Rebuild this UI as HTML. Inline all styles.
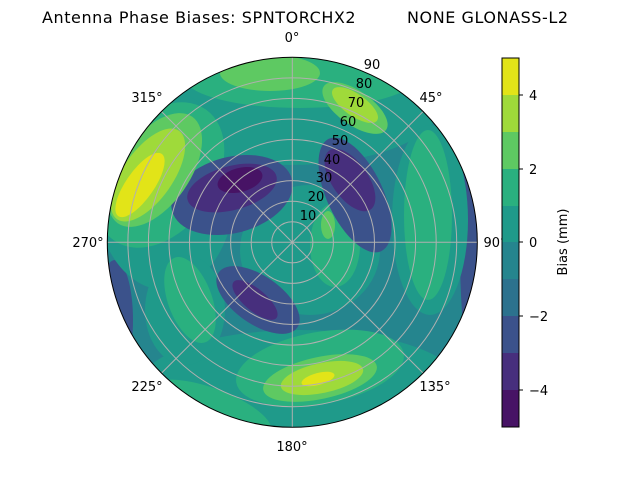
<!DOCTYPE html>
<html><head><meta charset="utf-8"><style>
html,body{margin:0;padding:0;background:#fff;}
svg{display:block;font-family:"DejaVu Sans","Liberation Sans",sans-serif;}
</style></head><body>
<svg width="640" height="480" viewBox="0 0 640 480" xmlns="http://www.w3.org/2000/svg">
<defs><clipPath id="c"><circle cx="292.3" cy="242.3" r="185"/></clipPath></defs>
<text x="42" y="23" font-size="16" textLength="526" lengthAdjust="spacing" xml:space="preserve">Antenna Phase Biases: SPNTORCHX2         NONE GLONASS-L2</text>
<g clip-path="url(#c)">
<rect x="100" y="50" width="400" height="400" fill="#25858e"/>
<ellipse cx="485" cy="250" rx="25" ry="160" fill="#3b528b"/>
<ellipse cx="115" cy="320" rx="18" ry="60" fill="#3b528b"/>
<ellipse cx="290" cy="105" rx="150" ry="60" fill="#1f9a8a"/>
<ellipse cx="300" cy="385" rx="160" ry="55" fill="#1f9a8a"/>
<ellipse cx="165" cy="190" rx="70" ry="100" fill="#1f9a8a"/>
<ellipse cx="430" cy="220" rx="38" ry="95" fill="#1f9a8a"/>
<ellipse cx="310" cy="250" rx="70" ry="65" fill="#1f9a8a"/>
<ellipse cx="185" cy="310" rx="40" ry="55" fill="#1f9a8a"/>
<ellipse cx="300" cy="78" rx="115" ry="30" fill="#2ab07f"/>
<ellipse cx="428" cy="215" rx="24" ry="85" fill="#2ab07f"/>
<ellipse cx="190" cy="300" rx="22" ry="45" fill="#2ab07f" transform="rotate(-20 190 300)"/>
<ellipse cx="210" cy="410" rx="65" ry="22" fill="#2ab07f" transform="rotate(20 210 410)"/>
<ellipse cx="320" cy="368" rx="85" ry="36" fill="#2ab07f" transform="rotate(-10 320 368)"/>
<ellipse cx="335" cy="245" rx="25" ry="42" fill="#2ab07f"/>
<ellipse cx="160" cy="175" rx="55" ry="80" fill="#2ab07f" transform="rotate(35 160 175)"/>
<ellipse cx="232" cy="195" rx="62" ry="38" fill="#3b528b" transform="rotate(-15 232 195)"/>
<ellipse cx="355" cy="195" rx="28" ry="62" fill="#3b528b" transform="rotate(-25 355 195)"/>
<ellipse cx="258" cy="300" rx="48" ry="24" fill="#3b528b" transform="rotate(35 258 300)"/>
<ellipse cx="232" cy="188" rx="46" ry="22" fill="#472f7d" transform="rotate(-15 232 188)"/>
<ellipse cx="350" cy="180" rx="18" ry="36" fill="#472f7d" transform="rotate(-35 350 180)"/>
<ellipse cx="255" cy="300" rx="28" ry="11" fill="#472f7d" transform="rotate(40 255 300)"/>
<ellipse cx="240" cy="180" rx="23" ry="12" fill="#471365" transform="rotate(-15 240 180)"/>
<ellipse cx="270" cy="73" rx="50" ry="18" fill="#5ec962"/>
<ellipse cx="355" cy="108" rx="38" ry="17" fill="#5ec962" transform="rotate(35 355 108)"/>
<ellipse cx="155" cy="170" rx="35" ry="65" fill="#5ec962" transform="rotate(35 155 170)"/>
<ellipse cx="320" cy="378" rx="58" ry="21" fill="#5ec962" transform="rotate(-12 320 378)"/>
<ellipse cx="328" cy="225" rx="7" ry="14" fill="#5ec962"/>
<ellipse cx="355" cy="105" rx="27" ry="11" fill="#9fda3a" transform="rotate(35 355 105)"/>
<ellipse cx="148" cy="175" rx="25" ry="54" fill="#9fda3a" transform="rotate(35 148 175)"/>
<ellipse cx="322" cy="378" rx="42" ry="15" fill="#9fda3a" transform="rotate(-12 322 378)"/>
<ellipse cx="140" cy="185" rx="14" ry="38" fill="#e2e418" transform="rotate(35 140 185)"/>
<ellipse cx="318" cy="379" rx="17" ry="6" fill="#e2e418" transform="rotate(-15 318 379)"/>
<g fill="none" stroke="#b0b0b0" stroke-width="1">
<circle cx="292.3" cy="242.3" r="20.6"/><circle cx="292.3" cy="242.3" r="41.1"/>
<circle cx="292.3" cy="242.3" r="61.7"/><circle cx="292.3" cy="242.3" r="82.2"/>
<circle cx="292.3" cy="242.3" r="102.8"/><circle cx="292.3" cy="242.3" r="123.3"/>
<circle cx="292.3" cy="242.3" r="143.9"/><circle cx="292.3" cy="242.3" r="164.4"/>
<line x1="292.3" y1="57" x2="292.3" y2="428"/><line x1="107" y1="242.3" x2="478" y2="242.3"/>
<line x1="161.5" y1="111.5" x2="423.1" y2="373.1"/><line x1="423.1" y1="111.5" x2="161.5" y2="373.1"/>
</g>
</g>
<circle cx="292.3" cy="242.3" r="185" fill="none" stroke="#000" stroke-width="1"/>
<g font-size="13" text-anchor="middle">
<text x="292" y="42">0°</text><text x="431" y="102">45°</text><text x="495" y="247">90°</text>
<text x="435" y="391">135°</text><text x="292" y="451">180°</text><text x="147" y="391">225°</text>
<text x="88" y="247">270°</text><text x="147" y="102">315°</text>
</g>
<g font-size="13" text-anchor="middle">
<text x="372" y="69">90</text><text x="364" y="88">80</text><text x="356" y="107">70</text>
<text x="348" y="126">60</text><text x="340" y="145">50</text><text x="332" y="164">40</text>
<text x="324" y="182">30</text><text x="316" y="201">20</text><text x="308" y="220">10</text>
</g>
<g>
<rect x="502" y="58" width="17" height="37" fill="#e2e418"/>
<rect x="502" y="95" width="17" height="37" fill="#9fda3a"/>
<rect x="502" y="132" width="17" height="37" fill="#5ec962"/>
<rect x="502" y="169" width="17" height="37" fill="#2ab07f"/>
<rect x="502" y="206" width="17" height="37" fill="#1f9a8a"/>
<rect x="502" y="242" width="17" height="37" fill="#25858e"/>
<rect x="502" y="279" width="17" height="37" fill="#2c728e"/>
<rect x="502" y="316" width="17" height="37" fill="#3b528b"/>
<rect x="502" y="353" width="17" height="37" fill="#472f7d"/>
<rect x="502" y="390" width="17" height="37" fill="#471365"/>
<rect x="502" y="58" width="17" height="369" fill="none" stroke="#000" stroke-width="1"/>
<g stroke="#000"><line x1="519" y1="95" x2="523" y2="95"/><line x1="519" y1="169" x2="523" y2="169"/><line x1="519" y1="242" x2="523" y2="242"/><line x1="519" y1="316" x2="523" y2="316"/><line x1="519" y1="390" x2="523" y2="390"/></g>
<g font-size="13"><text x="529" y="100">4</text><text x="529" y="174">2</text><text x="529" y="247">0</text><text x="529" y="321">−2</text><text x="529" y="395">−4</text></g>
<text transform="translate(567 242) rotate(-90)" font-size="13" text-anchor="middle">Bias (mm)</text>
</g>
</svg>
</body></html>
